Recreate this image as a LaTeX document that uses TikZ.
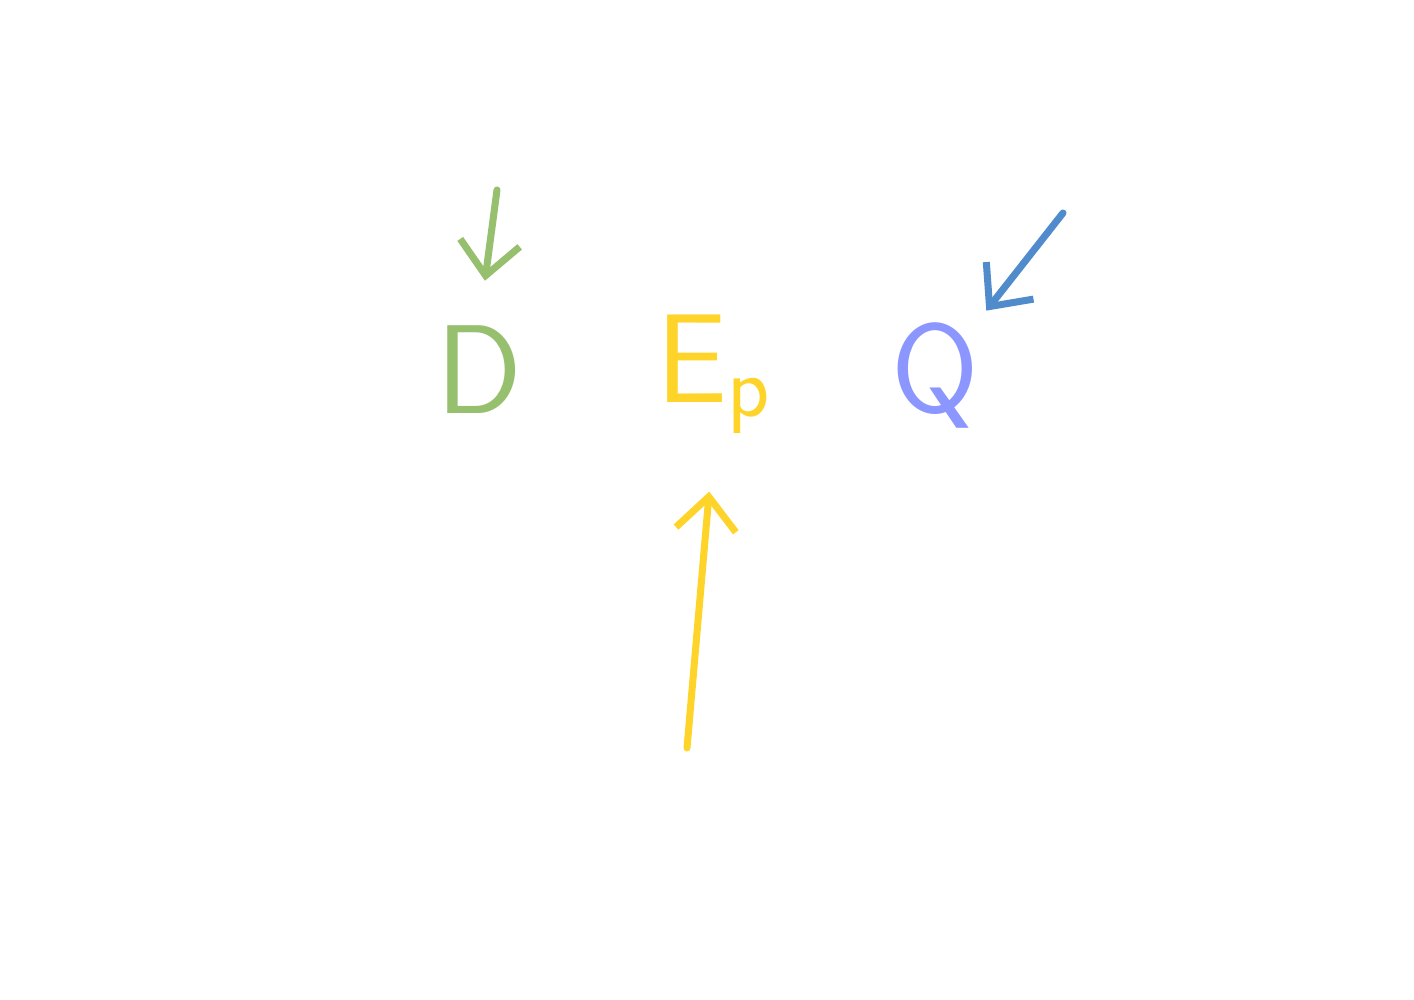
\documentclass[tikz,border=0pt]{standalone}
\usetikzlibrary{arrows.meta}
\definecolor{sketchgreen}{RGB}{151,192,110}
\definecolor{sketchyellow}{RGB}{255,212,42}
\definecolor{sketchviolet}{RGB}{140,150,255}
\definecolor{sketchblue}{RGB}{80,140,203}
\begin{document}
\begin{tikzpicture}[>={Straight Barb[length=3.3mm,width=6mm]}, line cap=round, line join=round]
    \useasboundingbox (0,0) rectangle (14.14,10);
    \tikzset{letter/.style={inner sep=0pt, font=\sffamily\fontsize{36}{40}\selectfont}}

    % ===== letters =====
    \node[letter, sketchgreen] (D) at (4.79,6.30) {D};
    \node[letter, sketchyellow, anchor=base west] (Ep) at (6.56,5.97) {E$_{\mathsf{p}}$};
    \node[letter, sketchviolet] (Q) at (9.35,6.24) {Q};

    % ===== pointers =====
    \coordinate (gstart) at (4.97,8.10);
    \coordinate (bstart) at (10.63,7.87);
    \coordinate (ystart) at (6.87,2.52);
    \draw[->, sketchgreen, line width=2pt, shorten >=4.5mm] (gstart) -- (D.north);
    \draw[->, sketchblue, line width=2pt, shorten >=1.5mm] (bstart) -- (Q);
    \draw[->, sketchyellow, line width=2pt, shorten >=5.8mm] (ystart) -- (Ep.south);
\end{tikzpicture}
\end{document}
